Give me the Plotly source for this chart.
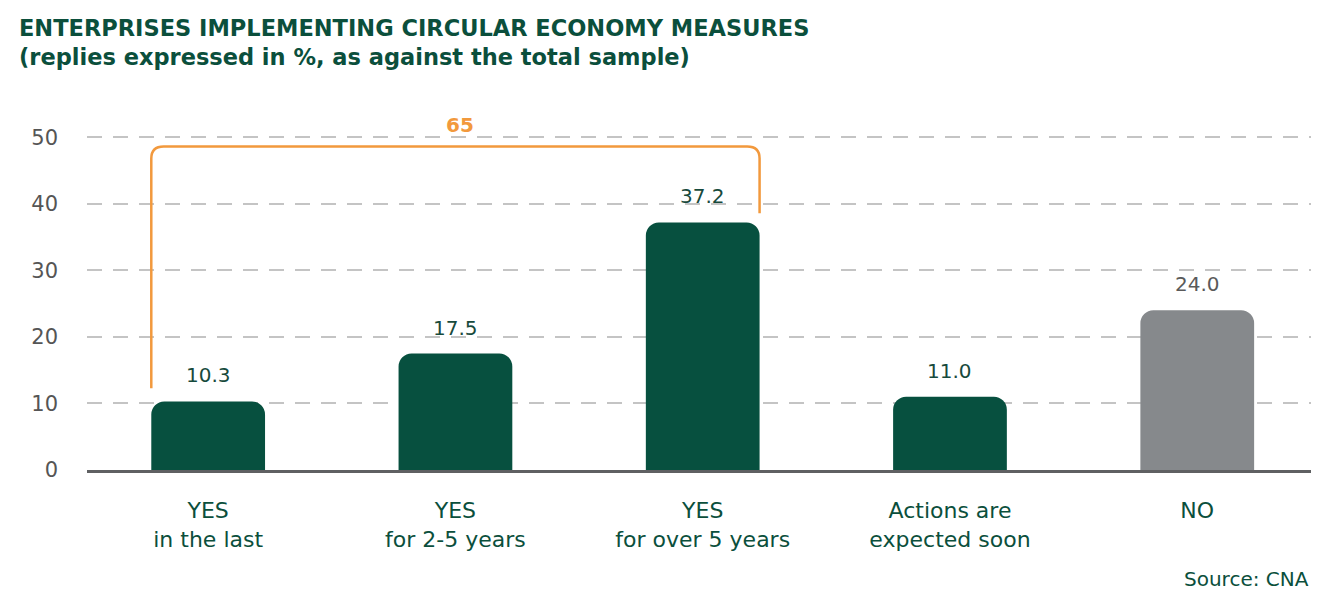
import plotly.graph_objects as go

categories = ["YES<br>in the last", "YES<br>for 2-5 years", "YES<br>for over 5 years",
              "Actions are<br>expected soon", "NO"]
values = [10.3, 17.5, 37.2, 11.0, 24.0]
bar_colors = ["#07503f", "#07503f", "#07503f", "#07503f", "#86898c"]
label_colors = ["#174a3c", "#174a3c", "#174a3c", "#174a3c", "#5a5a5a"]
y_ticks = [0, 10, 20, 30, 40, 50]
bracket_total = "65"
title_lines = ["ENTERPRISES IMPLEMENTING CIRCULAR ECONOMY MEASURES",
               "(replies expressed in %, as against the total sample)"]

GREEN = "#0b4f3c"
ORANGE = "#f2993d"
FONT = "DejaVu Sans"

x_idx = list(range(len(categories)))
bw = 0.46

fig = go.Figure()
fig.add_trace(go.Bar(
    x=x_idx, y=values, width=bw,
    marker=dict(color=bar_colors, cornerradius=13, line=dict(width=0)),
    hoverinfo="skip",
))

for i, v in enumerate(values):
    fig.add_annotation(x=i, y=v, text=f"{v:.1f}", showarrow=False,
                       yanchor="bottom", yshift=12,
                       font=dict(family=FONT, size=20, color=label_colors[i]))

# bracket over the three YES bars
xl = 0 - bw / 2
xr = 2 + bw / 2
yl = values[0] + 2.0
yr = values[2] + 1.4
ytop = 48.6
rx, ry = 0.05, 1.8
path = (f"M {xl},{yl} L {xl},{ytop - ry} Q {xl},{ytop} {xl + rx},{ytop} "
        f"L {xr - rx},{ytop} Q {xr},{ytop} {xr},{ytop - ry} L {xr},{yr}")
fig.add_shape(type="path", path=path, xref="x", yref="y",
              line=dict(color=ORANGE, width=2.5))
fig.add_annotation(x=1.02, y=ytop, text=f"<b>{bracket_total}</b>", showarrow=False,
                   yanchor="bottom", yshift=8,
                   font=dict(family=FONT, size=20, color=ORANGE))

# title lines
for k, (line, ys) in enumerate(zip(title_lines, [76, 47])):
    fig.add_annotation(x=0, xref="paper", xshift=-70, xanchor="left",
                       y=1, yref="paper", yshift=ys, yanchor="middle",
                       text=f"<b>{line}</b>", showarrow=False,
                       font=dict(family=FONT, size=22.5, color=GREEN))

fig.add_annotation(x=1, xref="paper", y=0, yref="paper", yshift=-95,
                   text="Source: CNA", showarrow=False, xanchor="right", yanchor="top",
                   font=dict(family=FONT, size=20, color=GREEN))

fig.update_layout(
    width=1318, height=586,
    margin=dict(l=79, r=15, t=96, b=124),
    paper_bgcolor="white", plot_bgcolor="white",
    showlegend=False,
    font=dict(family=FONT),
)

fig.update_xaxes(
    range=[-0.49, len(categories) - 0.54],
    tickvals=x_idx, ticktext=categories,
    showgrid=False, zeroline=False,
    showline=True, linecolor="#5f6062", linewidth=3,
    ticks="", tickfont=dict(family=FONT, size=22, color=GREEN),
    ticklabelstandoff=19,
)
fig.update_yaxes(
    range=[0, 55],
    tickvals=y_ticks,
    showgrid=True, gridcolor="#c4c4c4", gridwidth=1.5, griddash="15px,11px",
    zeroline=False, showline=False,
    ticks="", tickfont=dict(family=FONT, size=21, color="#555555"),
    ticklabelstandoff=28,
)

fig.write_html("out.html")
